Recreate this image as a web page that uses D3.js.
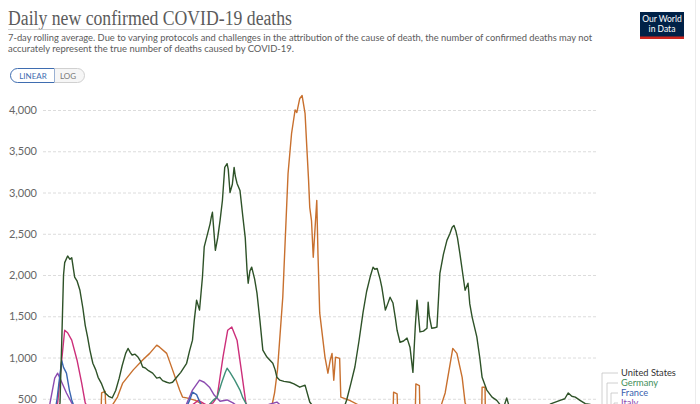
<!DOCTYPE html>
<html><head><meta charset="utf-8">
<script src="https://cdn.jsdelivr.net/npm/d3@7"></script>
<style>
html,body{margin:0;padding:0;background:#fff;overflow:hidden;}
svg{display:block;font-family:Lato,"Open Sans",sans-serif;}
</style></head><body>
<svg id="chart" width="700" height="470"></svg>
<script>
// ---------- DATA ----------
const yTicks = [500, 1000, 1500, 2000, 2500, 3000, 3500, 4000];
const legendNames = ["United States", "Germany", "France", "Italy"];

const usDates = ["2020-03-05","2020-03-15","2020-03-25","2020-03-30","2020-04-03","2020-04-06","2020-04-09","2020-04-11","2020-04-16","2020-04-20","2020-04-23","2020-04-28","2020-05-02","2020-05-07","2020-05-12","2020-05-16","2020-05-20","2020-05-24","2020-05-29","2020-06-03","2020-06-07","2020-06-13","2020-06-19","2020-06-25","2020-07-01","2020-07-07","2020-07-13","2020-07-18","2020-07-24","2020-07-28","2020-08-01","2020-08-04","2020-08-09","2020-08-14","2020-08-18","2020-08-22","2020-08-27","2020-09-01","2020-09-08","2020-09-15","2020-09-20","2020-09-25","2020-10-02","2020-10-07","2020-10-12","2020-10-19","2020-10-26","2020-11-05","2020-11-10","2020-11-15","2020-11-18","2020-11-22","2020-11-27","2020-12-02","2020-12-05","2020-12-10","2020-12-15","2020-12-17","2020-12-19","2020-12-24","2020-12-28","2021-01-01","2021-01-05","2021-01-09","2021-01-13","2021-01-15","2021-01-18","2021-01-22","2021-01-25","2021-01-27","2021-01-30","2021-02-04","2021-02-09","2021-02-13","2021-02-16","2021-02-18","2021-02-21","2021-02-24","2021-03-01","2021-03-05","2021-03-10","2021-03-15","2021-03-22","2021-04-01","2021-04-05","2021-04-08","2021-04-13","2021-04-20","2021-04-30","2021-05-07","2021-05-17","2021-05-26","2021-06-03","2021-06-15","2021-07-01","2021-07-15","2021-07-28","2021-08-05","2021-08-12","2021-08-19","2021-08-26","2021-09-02","2021-09-08","2021-09-14","2021-09-19","2021-09-22","2021-09-26","2021-10-01","2021-10-04","2021-10-10","2021-10-14","2021-10-18","2021-10-23","2021-10-27","2021-10-30","2021-11-04","2021-11-10","2021-11-16","2021-11-21","2021-11-26","2021-11-30","2021-12-03","2021-12-08","2021-12-14","2021-12-20","2021-12-22","2021-12-24","2021-12-28","2022-01-02","2022-01-06","2022-01-11","2022-01-17","2022-01-23","2022-01-28","2022-02-01","2022-02-04","2022-02-07","2022-02-10","2022-02-14","2022-02-23","2022-02-28","2022-03-03","2022-03-07","2022-03-15","2022-03-20","2022-03-24","2022-04-01","2022-04-10","2022-04-18","2022-04-29","2022-05-05","2022-05-11","2022-05-25","2022-06-10","2022-06-25","2022-07-10","2022-07-20","2022-08-04","2022-08-12","2022-08-18","2022-08-24","2022-08-30","2022-09-07","2022-09-16","2022-09-25","2022-10-06"];
const usDeaths = [0,10,150,300,450,1200,2000,2150,2230,2190,2210,1975,1930,1815,1600,1390,1250,1090,930,850,760,680,570,530,510,600,750,900,1050,1110,1060,1030,1040,1005,960,885,870,840,810,750,760,720,700,690,700,760,820,930,1080,1210,1450,1695,1575,1975,2340,2480,2620,2700,2760,2300,2450,2660,2900,3305,3350,3280,3000,3100,3305,3200,3110,3025,2700,2450,2060,1900,2050,2095,1950,1780,1450,1090,1005,930,850,760,725,710,700,680,640,665,460,350,250,230,320,485,680,885,1200,1550,1800,1975,2095,2070,2080,1950,1850,1575,1650,1730,1660,1480,1330,1185,1200,1235,1125,820,1370,1695,1310,1320,1355,1670,1500,1355,1360,1370,2020,2250,2420,2500,2580,2600,2540,2450,2265,1815,1900,1650,1490,1250,1000,760,605,520,480,380,510,360,320,300,330,400,440,480,500,570,530,520,480,440,430,420];

const deDates = ["2020-03-05","2020-03-25","2020-04-10","2020-04-20","2020-05-10","2020-06-01","2020-07-01","2020-09-01","2020-10-15","2020-11-01","2020-11-15","2020-12-01","2020-12-10","2020-12-20","2020-12-27","2021-01-04","2021-01-10","2021-01-13","2021-01-18","2021-01-26","2021-02-04","2021-02-09","2021-02-16","2021-03-01","2021-03-20","2021-04-10","2021-04-25","2021-05-15","2021-06-10","2021-07-10","2021-08-10","2021-09-10","2021-10-10","2021-11-10","2021-12-01","2021-12-15","2022-01-01","2022-01-20","2022-02-15","2022-03-20","2022-04-15","2022-05-15","2022-06-15","2022-07-15","2022-08-10","2022-09-10","2022-10-06"];
const deDeaths = [0,30,200,230,100,30,8,5,20,70,200,330,400,480,520,700,820,870,820,725,605,510,420,280,180,200,240,170,70,25,15,50,60,150,320,380,280,150,180,230,170,110,70,90,120,80,90];

const frDates = ["2020-03-05","2020-03-20","2020-03-29","2020-04-03","2020-04-06","2020-04-09","2020-04-14","2020-04-19","2020-04-23","2020-04-30","2020-05-15","2020-06-10","2020-07-10","2020-09-01","2020-10-01","2020-10-20","2020-11-01","2020-11-06","2020-11-10","2020-11-15","2020-11-22","2020-11-30","2020-12-15","2021-01-01","2021-02-01","2021-03-01","2021-04-15","2021-05-15","2021-06-15","2021-08-15","2021-10-01","2021-11-15","2021-12-15","2022-01-20","2022-02-10","2022-03-10","2022-04-10","2022-05-10","2022-06-15","2022-07-20","2022-08-15","2022-10-06"];
const frDeaths = [0,100,500,800,960,880,810,605,485,350,150,40,15,20,60,150,300,420,480,580,550,420,330,300,380,290,330,160,40,80,40,50,150,250,230,100,120,100,30,100,50,40];

const itDates = ["2020-03-05","2020-03-10","2020-03-17","2020-03-25","2020-03-30","2020-04-06","2020-04-14","2020-04-23","2020-05-01","2020-05-15","2020-06-10","2020-07-10","2020-09-01","2020-10-01","2020-10-20","2020-11-01","2020-11-05","2020-11-15","2020-11-27","2020-12-05","2020-12-14","2020-12-22","2021-01-01","2021-01-13","2021-01-23","2021-02-05","2021-02-20","2021-03-10","2021-03-25","2021-04-08","2021-04-25","2021-05-15","2021-06-10","2021-07-10","2021-09-01","2021-10-01","2021-11-01","2021-12-01","2022-01-01","2022-01-25","2022-02-10","2022-03-10","2022-04-10","2022-05-10","2022-06-15","2022-07-25","2022-08-15","2022-10-06"];
const itDeaths = [10,100,450,750,810,700,570,450,350,200,60,15,8,20,100,230,440,605,725,700,640,545,470,485,450,380,310,380,430,460,350,200,70,20,50,45,40,80,150,350,300,150,130,100,60,150,100,50];

const ukDates = ["2020-03-05","2020-03-20","2020-03-30","2020-04-05","2020-04-11","2020-04-16","2020-04-23","2020-05-02","2020-05-10","2020-05-16","2020-06-01","2020-07-01","2020-08-01","2020-09-15","2020-10-15","2020-11-01","2020-11-10","2020-11-25","2020-12-10","2020-12-20","2020-12-27","2021-01-06","2021-01-14","2021-01-21","2021-01-30","2021-02-07","2021-02-14","2021-03-01","2021-03-20","2021-04-20","2021-06-01","2021-07-15","2021-08-20","2021-10-01","2021-11-01","2021-12-01","2022-01-10","2022-02-01","2022-03-01","2022-04-10","2022-05-10","2022-06-15","2022-07-20","2022-08-15","2022-10-06"];
const ukDeaths = [0,100,450,900,1330,1300,1210,970,690,450,250,80,15,20,130,300,400,480,420,450,520,1005,1330,1370,1210,810,450,250,70,20,10,40,100,120,150,120,250,230,150,250,150,80,140,110,70];

const inDates = ["2020-03-05","2020-04-15","2020-05-15","2020-06-01","2020-06-12","2020-06-13","2020-06-19","2020-06-20","2020-07-01","2020-07-10","2020-07-19","2020-08-06","2020-08-22","2020-09-03","2020-09-15","2020-09-20","2020-10-02","2020-10-12","2020-10-24","2020-10-29","2020-11-05","2020-11-20","2020-12-10","2021-01-01","2021-02-01","2021-03-01","2021-03-20","2021-03-30","2021-04-04","2021-04-09","2021-04-18","2021-04-27","2021-05-03","2021-05-09","2021-05-12","2021-05-17","2021-05-21","2021-05-26","2021-05-29","2021-06-01","2021-06-03","2021-06-06","2021-06-09","2021-06-15","2021-06-17","2021-06-20","2021-06-29","2021-07-04","2021-07-08","2021-07-11","2021-07-14","2021-07-17","2021-07-24","2021-07-26","2021-08-10","2021-09-01","2021-09-20","2021-10-10","2021-10-23","2021-10-24","2021-10-30","2021-10-31","2021-11-15","2021-11-30","2021-12-01","2021-12-07","2021-12-08","2021-12-25","2022-01-10","2022-01-20","2022-02-02","2022-02-09","2022-02-18","2022-02-23","2022-03-10","2022-03-23","2022-03-24","2022-03-29","2022-03-30","2022-04-15","2022-05-15","2022-06-15","2022-07-15","2022-08-15","2022-10-06"];
const inDeaths = [0,30,120,220,330,570,590,400,420,520,690,850,970,1050,1150,1125,1050,850,605,520,510,480,400,250,120,100,180,400,570,850,1730,3230,3715,4000,3970,4140,4175,3960,3550,3150,2820,2660,2215,2905,2265,1540,1005,810,970,1050,725,1005,990,520,480,400,300,250,300,580,560,350,350,330,680,660,330,300,350,570,1110,1050,760,450,200,150,640,640,100,40,30,25,40,50,30];

// ---------- CHART ----------
const svg = d3.select("#chart");
const parse = d3.timeParse("%Y-%m-%d");

const x = d3.scaleTime()
  .domain([parse("2020-03-05"), parse("2022-10-06")])
  .range([43, 597]);
const y = d3.scaleLinear().domain([0, 4000]).range([440, 110]);

// Title
svg.append("text").attr("x", 8).attr("y", 25)
  .attr("font-family", "'Liberation Serif','DejaVu Serif',serif")
  .attr("font-size", 20).attr("fill", "#5b5b5b")
  .attr("textLength", 284).attr("lengthAdjust", "spacingAndGlyphs")
  .text("Daily new confirmed COVID-19 deaths");
svg.append("line").attr("x1", 8).attr("x2", 292).attr("y1", 29.5).attr("y2", 29.5)
  .attr("stroke", "#c8c8c8").attr("stroke-width", 0.8);

// Subtitle
const sub = svg.append("g").attr("fill", "#5b5b5b").attr("font-size", 9.6);
sub.append("text").attr("x", 8).attr("y", 41)
  .attr("textLength", 584).attr("lengthAdjust", "spacingAndGlyphs")
  .text("7-day rolling average. Due to varying protocols and challenges in the attribution of the cause of death, the number of confirmed deaths may not");
sub.append("text").attr("x", 8).attr("y", 52)
  .attr("textLength", 286).attr("lengthAdjust", "spacingAndGlyphs")
  .text("accurately represent the true number of deaths caused by COVID-19.");

// Logo
const logo = svg.append("g");
logo.append("rect").attr("x", 640).attr("y", 12).attr("width", 44).attr("height", 27).attr("fill", "#002147");
logo.append("rect").attr("x", 640).attr("y", 36.5).attr("width", 44).attr("height", 2.5).attr("fill", "#ce261e");
logo.append("text").attr("x", 662).attr("y", 22).attr("text-anchor", "middle").attr("fill", "#fff")
  .attr("font-size", 8.5).text("Our World");
logo.append("text").attr("x", 662).attr("y", 32).attr("text-anchor", "middle").attr("fill", "#fff")
  .attr("font-size", 8.5).text("in Data");

// Linear / Log toggle
const tg = svg.append("g");
tg.append("path").attr("d", "M54.5,68.5 H17.5 A7,7 0 0 0 17.5,82.5 H54.5 Z")
  .attr("fill", "#fff").attr("stroke", "#3f6db0").attr("stroke-width", 1);
tg.append("path").attr("d", "M54.5,68.5 H77.5 A7,7 0 0 1 77.5,82.5 H54.5")
  .attr("fill", "#f6f6f6").attr("stroke", "#d0d0d0").attr("stroke-width", 1);
tg.append("text").attr("x", 33).attr("y", 78.5).attr("text-anchor", "middle")
  .attr("font-size", 8).attr("fill", "#3f6db0").text("LINEAR");
tg.append("text").attr("x", 68).attr("y", 78.5).attr("text-anchor", "middle")
  .attr("font-size", 8).attr("fill", "#777").text("LOG");

// Grid + y labels
const grid = svg.append("g");
grid.selectAll("line").data(yTicks).join("line")
  .attr("x1", 43).attr("x2", 597)
  .attr("y1", d => y(d) + 0.5).attr("y2", d => y(d) + 0.5)
  .attr("stroke", "#dcdcdc").attr("stroke-dasharray", "3,2");
grid.selectAll("text").data(yTicks).join("text")
  .attr("x", 37).attr("y", d => y(d) + 4)
  .attr("text-anchor", "end").attr("font-size", 11).attr("fill", "#666")
  .text(d => d3.format(",")(d));

// Series
const series = [
  {name: "India", dates: inDates, vals: inDeaths, color: "#c8702e"},
  {name: "United Kingdom", dates: ukDates, vals: ukDeaths, color: "#cc2f7a"},
  {name: "Italy", dates: itDates, vals: itDeaths, color: "#8c4bb0"},
  {name: "France", dates: frDates, vals: frDeaths, color: "#3a66b0"},
  {name: "Germany", dates: deDates, vals: deDeaths, color: "#3f8f78"},
  {name: "United States", dates: usDates, vals: usDeaths, color: "#2e5228"}
];
const line = d3.line().x(d => x(d[0])).y(d => y(d[1]));
series.forEach(s => {
  const pts = s.dates.map((d, i) => [parse(d), s.vals[i]]);
  s.pts = pts;
  svg.append("path").datum(pts).attr("d", line)
    .attr("fill", "none").attr("stroke", s.color).attr("stroke-width", 1.4)
    .attr("stroke-linejoin", "round");
});

// Legend with leader lines
const legendColors = {"United States": "#333", "Germany": "#3f8f5a", "France": "#3a5fae", "Italy": "#8c4bb0"};
const bends = [602, 607, 611, 614];
legendNames.forEach((n, i) => {
  const s = series.find(d => d.name === n);
  const last = s.pts[s.pts.length - 1];
  const ly = 376 + i * 10;
  const ey = y(last[1]);
  svg.append("path")
    .attr("d", `M599,${ey} H${bends[i]} V${ly - 3} H618`)
    .attr("fill", "none").attr("stroke", "#c4c4c4").attr("stroke-width", 0.8);
  svg.append("text").attr("x", 621).attr("y", ly)
    .attr("font-size", 9.3).attr("fill", legendColors[n]).text(n);
});

// right edge
svg.append("line").attr("x1", 695.5).attr("x2", 695.5).attr("y1", 0).attr("y2", 470)
  .attr("stroke", "#ececec");
</script>
</body></html>
